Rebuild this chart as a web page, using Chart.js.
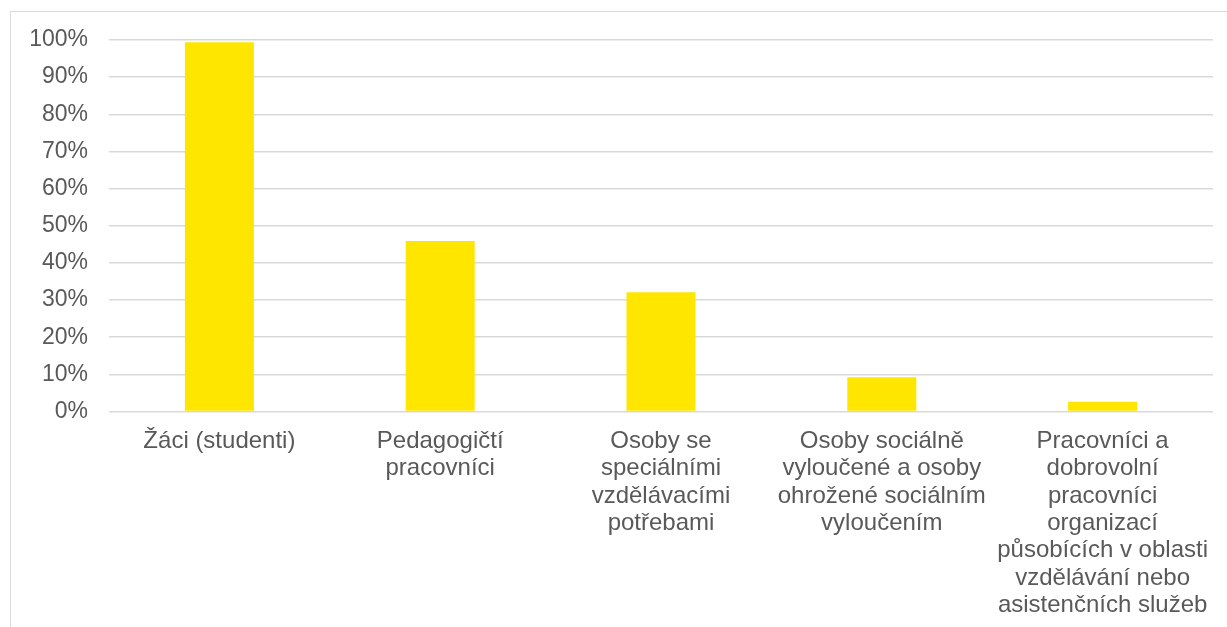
<!DOCTYPE html>
<html>
<head>
<meta charset="utf-8">
<script src="https://cdn.jsdelivr.net/npm/chart.js@4"></script>
<style>
  body { margin: 0; background: #fff; }
  #wrap { position: relative; width: 1227px; height: 627px; }
  #frame { position: absolute; left: 10px; top: 11px; right: -2px; bottom: -2px; border: 1px solid #d9d9d9; }
  canvas { position: absolute; left: 0; top: 0; }
</style>
</head>
<body>
<div id="wrap">
  <div id="frame"></div>
  <canvas id="canvas" width="1227" height="627"></canvas>
</div>
<script>
var categories = [
  ['Žáci (studenti)'],
  ['Pedagogičtí', 'pracovníci'],
  ['Osoby se', 'speciálními', 'vzdělávacími', 'potřebami'],
  ['Osoby sociálně', 'vyloučené a osoby', 'ohrožené sociálním', 'vyloučením'],
  ['Pracovníci a', 'dobrovolní', 'pracovníci', 'organizací', 'působících v oblasti', 'vzdělávání nebo', 'asistenčních služeb']
];
var shares = [99.4, 45.9, 32.1, 9.2, 2.6];

var ctx = document.getElementById('canvas').getContext('2d');
var myChart = new Chart(ctx, {
  type: 'bar',
  data: {
    labels: categories,
    datasets: [{
      data: shares,
      backgroundColor: '#FFE600',
      borderWidth: 0,
      categoryPercentage: 1,
      barPercentage: 0.3125
    }]
  },
  options: {
    responsive: false,
    animation: false,
    layout: { padding: { left: 10, top: 40, right: 14, bottom: 0 } },
    plugins: { legend: { display: false }, tooltip: { enabled: false } },
    scales: {
      x: {
        grid: { display: false, drawTicks: false },
        border: { display: false },
        ticks: {
          autoSkip: false,
          maxRotation: 0,
          padding: 16,
          color: '#595959',
          font: { family: 'Liberation Sans', size: 24, lineHeight: 1.14 }
        },
        afterFit: function(scale) { scale.height = 215.5; }
      },
      y: {
        min: 0,
        max: 100,
        grid: { color: '#d9d9d9', lineWidth: 1.5, drawTicks: false },
        border: { display: false },
        ticks: {
          stepSize: 10,
          padding: 21,
          color: '#595959',
          font: { family: 'Liberation Sans', size: 23 },
          callback: function(v) { return v + '%'; }
        },
        afterFit: function(scale) { scale.width = 99; }
      }
    }
  }
});
</script>
</body>
</html>
